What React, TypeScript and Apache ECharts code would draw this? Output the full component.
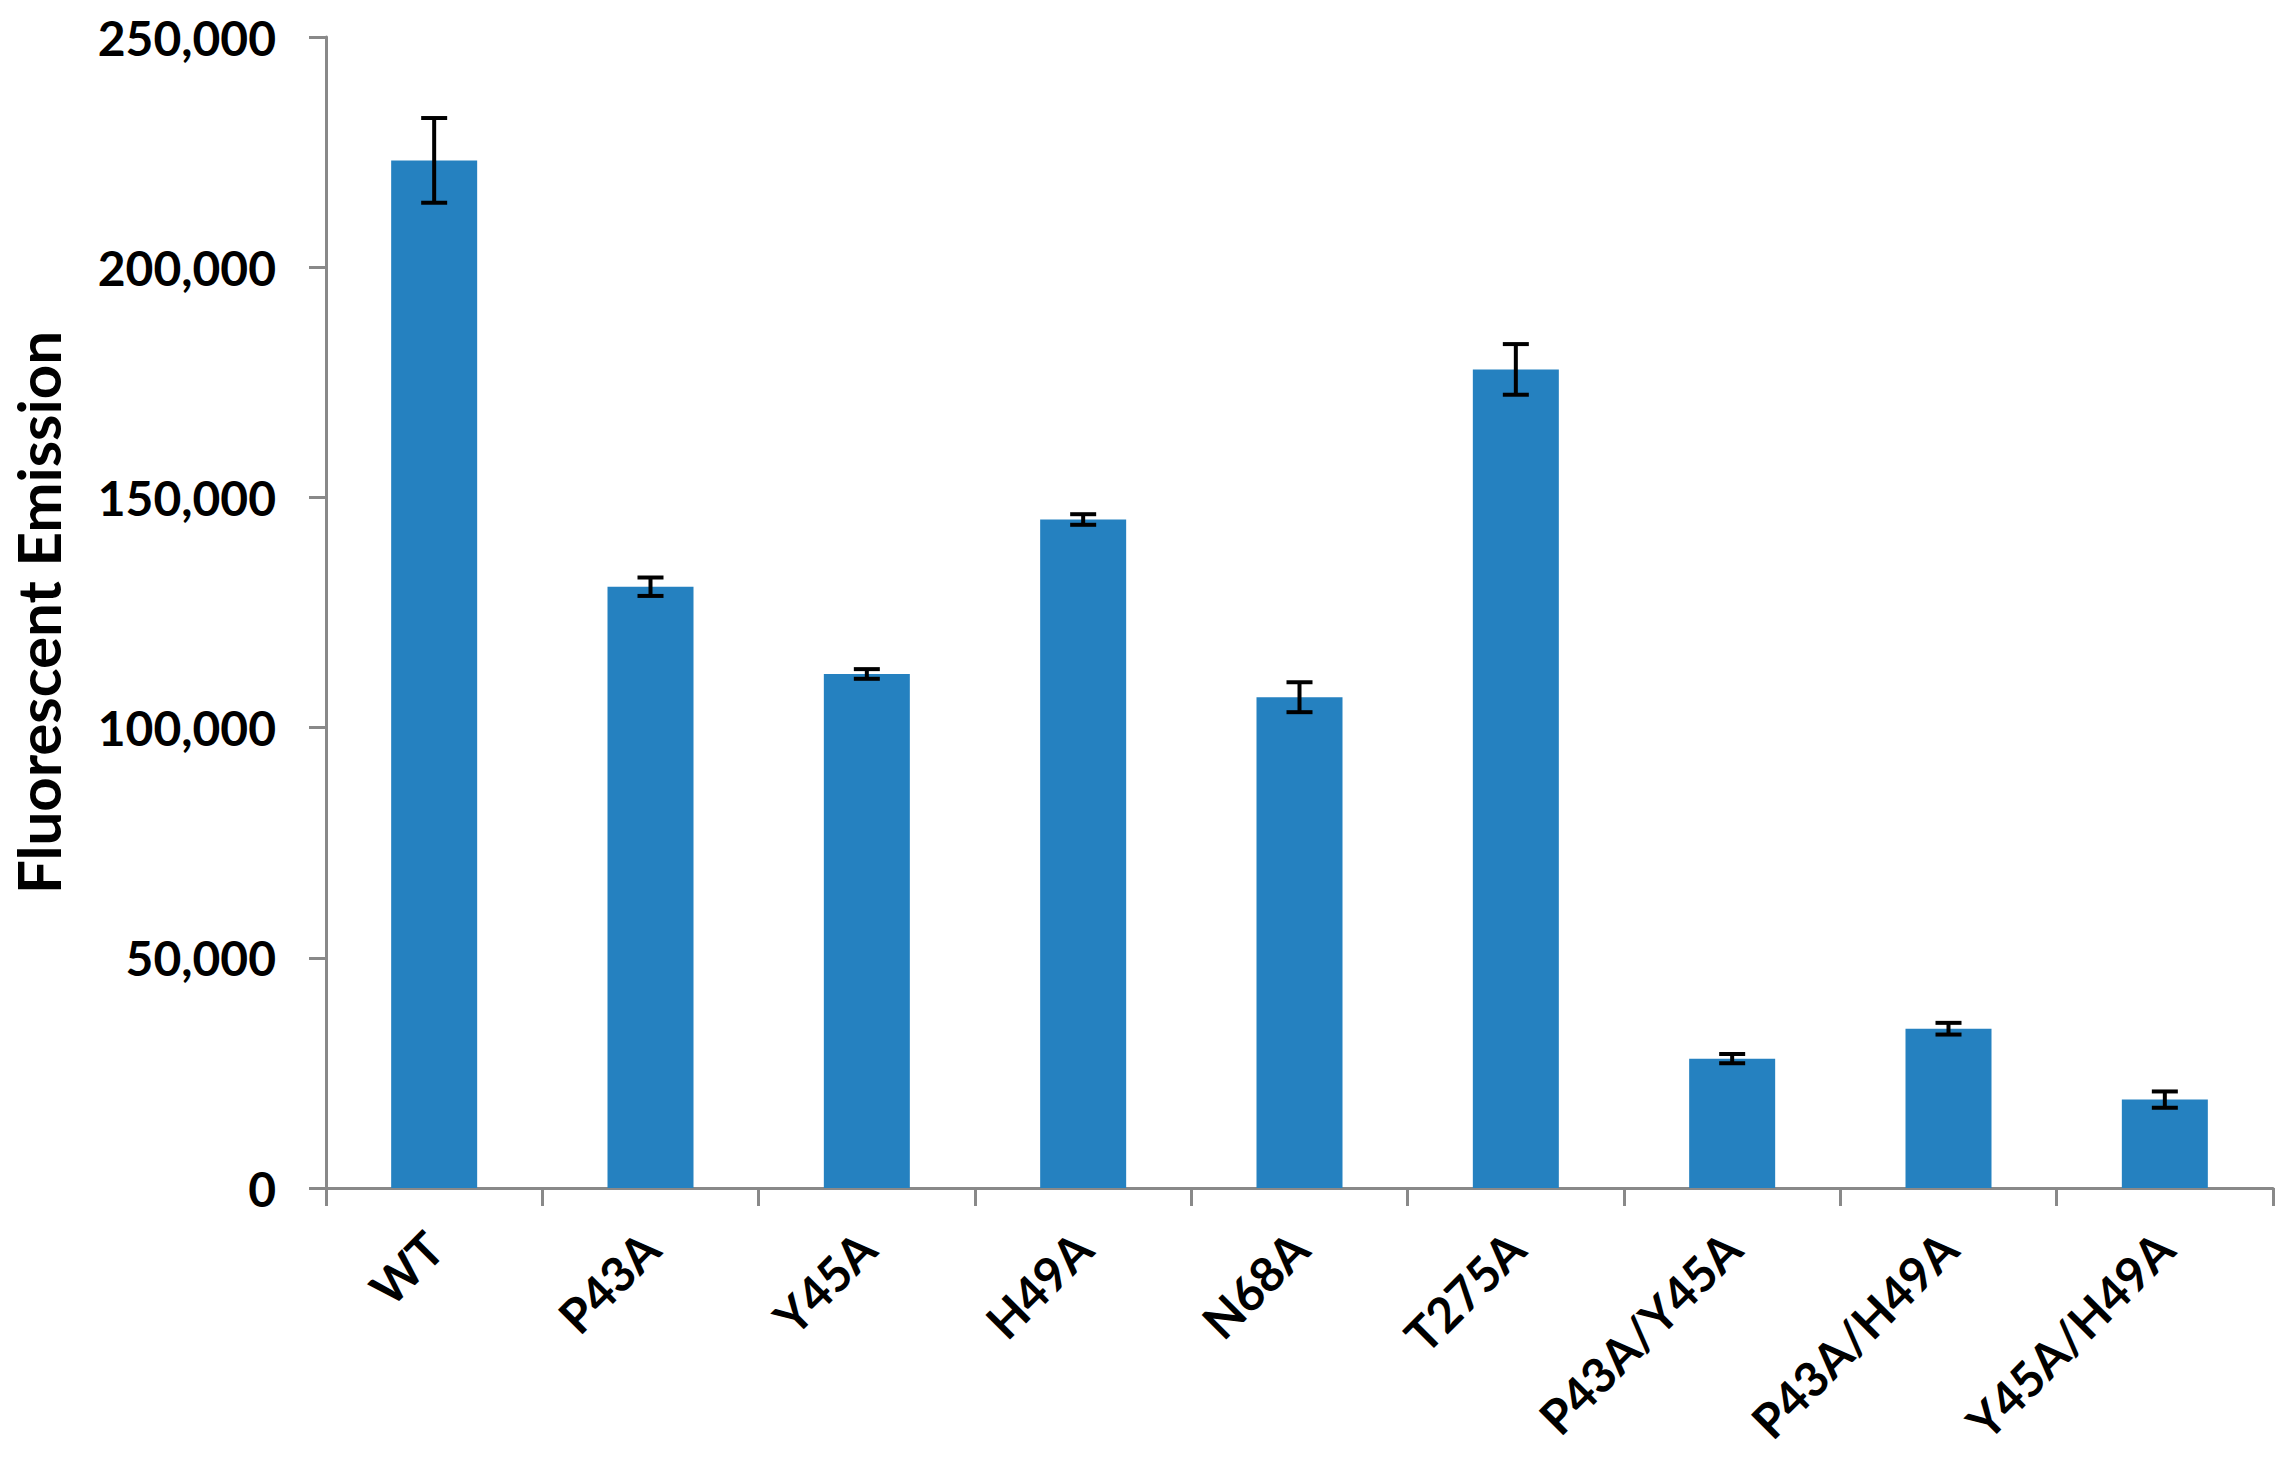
import React, { useEffect, useRef } from "react";
import * as echarts from "echarts";

const categories = ["WT", "P43A", "Y45A", "H49A", "N68A", "T275A", "P43A/Y45A", "P43A/H49A", "Y45A/H49A"];
const means = [223200, 130600, 111650, 145200, 106600, 177800, 28100, 34600, 19200];
const errors = [9200, 2000, 1050, 1150, 3250, 5500, 1000, 1270, 1770];
const yTicks = { min: 0, max: 250000, interval: 50000 };
const yTitle = "Fluorescent Emission";

const FONT = "Lato";
const AXIS_GRAY = "#898989";
const BAR_BLUE = "#2581C0";

export default function App() {
  const ref = useRef<HTMLDivElement>(null);
  useEffect(() => {
    if (!ref.current) return;
    const chart = echarts.init(ref.current, null, { renderer: "svg" });
    const errData = means.map((m, i) => [i, m - errors[i], m + errors[i]]);
    chart.setOption({
      animation: false,
      backgroundColor: "#ffffff",
      grid: { left: 326, right: 22, top: 37, bottom: 282, containLabel: false, outerBoundsMode: "none" },
      xAxis: {
        type: "category",
        data: categories,
        boundaryGap: true,
        axisLine: { show: true, lineStyle: { color: AXIS_GRAY, width: 3 } },
        axisTick: { show: true, length: 18, alignWithLabel: false, lineStyle: { color: AXIS_GRAY, width: 3 } },
        axisLabel: {
          rotate: 45,
          interval: 0,
          margin: 52,
          color: "#000",
          fontFamily: FONT,
          fontWeight: "bold",
          fontSize: 48,
        },
        splitLine: { show: false },
      },
      yAxis: {
        type: "value",
        min: yTicks.min,
        max: yTicks.max,
        interval: yTicks.interval,
        name: yTitle,
        nameLocation: "middle",
        nameGap: 258,
        nameRotate: 90,
        nameTextStyle: { color: "#000", fontFamily: FONT, fontWeight: "bold", fontSize: 60 },
        axisLine: { show: true, lineStyle: { color: AXIS_GRAY, width: 3 } },
        axisTick: { show: true, length: 17, lineStyle: { color: AXIS_GRAY, width: 3 } },
        axisLabel: {
          margin: 50,
          color: "#000",
          fontFamily: FONT,
          fontWeight: "bold",
          fontSize: 48,
          formatter: (v: number) => v.toLocaleString("en-US"),
        },
        splitLine: { show: false },
      },
      series: [
        {
          type: "bar",
          data: means,
          barWidth: 86,
          itemStyle: { color: BAR_BLUE },
          z: 2,
        },
        {
          type: "custom",
          data: errData,
          encode: { x: 0, y: [1, 2] },
          z: 3,
          renderItem: (params: any, api: any) => {
            const i = api.value(0);
            const lo = api.coord([i, api.value(1)]);
            const hi = api.coord([i, api.value(2)]);
            const half = 13;
            const style = { stroke: "#000", lineWidth: 4 };
            return {
              type: "group",
              children: [
                { type: "line", shape: { x1: lo[0], y1: lo[1], x2: hi[0], y2: hi[1] }, style },
                { type: "line", shape: { x1: hi[0] - half, y1: hi[1], x2: hi[0] + half, y2: hi[1] }, style },
                { type: "line", shape: { x1: lo[0] - half, y1: lo[1], x2: lo[0] + half, y2: lo[1] }, style },
              ],
            };
          },
        },
      ],
    });
    return () => chart.dispose();
  }, []);
  return (
    <div
      ref={ref}
      style={{ position: "absolute", left: 0, top: 0, width: 2295, height: 1470, background: "#fff" }}
    />
  );
}
